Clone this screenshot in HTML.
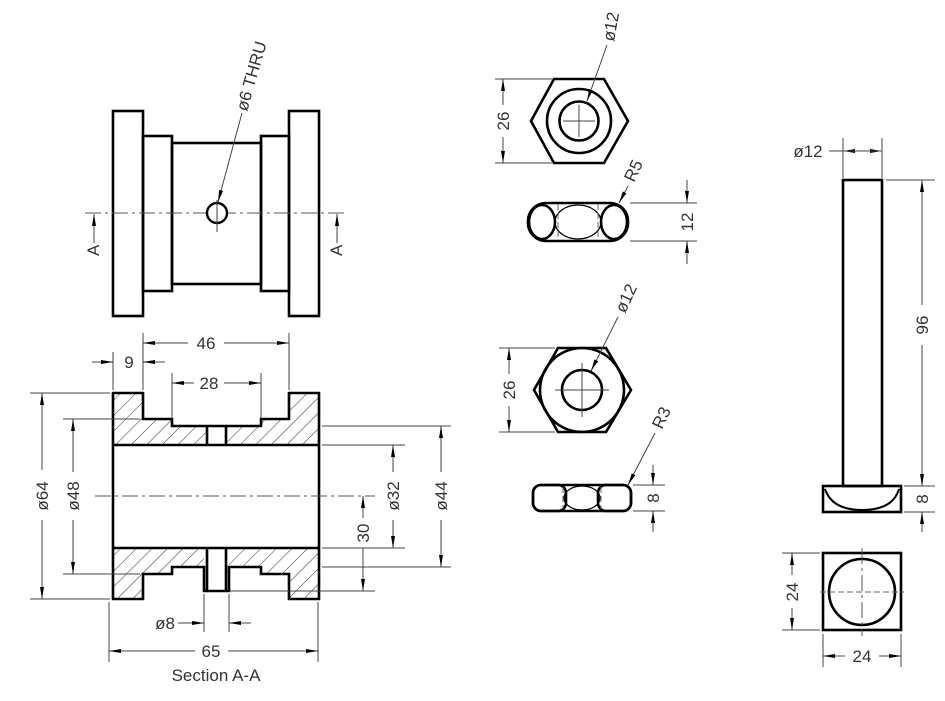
<!DOCTYPE html>
<html><head><meta charset="utf-8"><style>
html,body{margin:0;padding:0;background:#fff;}
svg{display:block;}
text{font-family:"Liberation Sans","DejaVu Sans",sans-serif;fill:#333;font-size:17px;}
.k{stroke:#000;stroke-width:2.6;fill:none;stroke-linejoin:miter;}
.t{stroke:#444;stroke-width:1;fill:none;}
.c{stroke:#555;stroke-width:1;fill:none;stroke-dasharray:16 4 3 4;}
.h{stroke:#666;stroke-width:1;fill:none;stroke-dasharray:6 3;}
</style></head><body>
<svg width="945" height="701" viewBox="0 0 945 701" xmlns="http://www.w3.org/2000/svg">
<defs>
<marker id="a" viewBox="0 0 12 4" refX="12" refY="2" markerWidth="12" markerHeight="4" markerUnits="userSpaceOnUse" orient="auto-start-reverse"><path d="M0,0 L12,2 L0,4 z" fill="#000"/></marker>
<pattern id="hp" patternUnits="userSpaceOnUse" width="11" height="11" patternTransform="rotate(45)"><line x1="0" y1="0" x2="0" y2="11" stroke="#333" stroke-width="1"/></pattern>
</defs>

<!-- ===== Top view ===== -->
<rect class="k" x="113" y="111" width="30" height="205"/>
<rect class="k" x="143" y="136" width="29" height="155"/>
<rect class="k" x="172" y="143" width="89" height="141"/>
<rect class="k" x="261" y="136" width="28" height="155"/>
<rect class="k" x="289" y="111" width="30" height="205"/>
<line class="c" x1="85" y1="213" x2="348" y2="213"/>
<circle cx="217" cy="213" r="10" fill="#fff" stroke="#000" stroke-width="2.4"/>
<line class="t" x1="217" y1="200" x2="217" y2="232"/>
<line class="t" x1="242" y1="113" x2="218" y2="202" marker-end="url(#a)"/>
<text transform="translate(247,112) rotate(-74)">ø6  THRU</text>
<line class="t" x1="94" y1="243" x2="94" y2="214" marker-end="url(#a)" stroke="#000" stroke-width="1.5"/>
<text transform="translate(99,256) rotate(-90)" font-size="14">A</text>
<line class="t" x1="337" y1="243" x2="337" y2="214" marker-end="url(#a)" stroke="#000" stroke-width="1.5"/>
<text transform="translate(342,256) rotate(-90)" font-size="14">A</text>

<!-- ===== Section A-A ===== -->
<path d="M113,393 L143,393 L143,419 L172,419 L172,426 L207,426 L207,445 L113,445 Z" fill="url(#hp)"/>
<path d="M227,426 L261,426 L261,419 L289,419 L289,393 L319,393 L319,445 L227,445 Z" fill="url(#hp)"/>
<path d="M113,548 L204,548 L204,567 L172,567 L172,574 L143,574 L143,599 L113,599 Z" fill="url(#hp)"/>
<path d="M229,548 L319,548 L319,599 L289,599 L289,574 L261,574 L261,567 L229,567 Z" fill="url(#hp)"/>
<path class="k" d="M113,393 L143,393 L143,419 L172,419 L172,426 L261,426 L261,419 L289,419 L289,393 L319,393 L319,599 L289,599 L289,574 L261,574 L261,567 L229,567 L229,591 L204,591 L204,567 L172,567 L172,574 L143,574 L143,599 L113,599 Z"/>
<line class="k" x1="113" y1="445" x2="319" y2="445"/>
<line class="k" x1="113" y1="548" x2="319" y2="548"/>
<line class="k" x1="207" y1="426" x2="207" y2="445"/>
<line class="k" x1="226" y1="426" x2="226" y2="445"/>
<line class="k" x1="207" y1="548" x2="207" y2="591"/>
<line class="k" x1="226" y1="548" x2="226" y2="591"/>
<line class="c" x1="95" y1="496" x2="375" y2="496"/>

<!-- dims -->
<line class="t" x1="143" y1="333" x2="143" y2="390"/>
<line class="t" x1="289" y1="333" x2="289" y2="390"/>
<line class="t" x1="143" y1="343" x2="188" y2="343" marker-start="url(#a)"/>
<line class="t" x1="224" y1="343" x2="289" y2="343" marker-end="url(#a)"/>
<text x="206" y="349" text-anchor="middle">46</text>

<line class="t" x1="113" y1="352" x2="113" y2="390"/>
<line class="t" x1="92" y1="362" x2="113" y2="362" marker-end="url(#a)"/>
<line class="t" x1="165" y1="362" x2="143" y2="362" marker-end="url(#a)"/>
<text x="129" y="368" text-anchor="middle">9</text>

<line class="t" x1="172" y1="373" x2="172" y2="419"/>
<line class="t" x1="261" y1="373" x2="261" y2="419"/>
<line class="t" x1="172" y1="383" x2="194" y2="383" marker-start="url(#a)"/>
<line class="t" x1="224" y1="383" x2="261" y2="383" marker-end="url(#a)"/>
<text x="209" y="389" text-anchor="middle">28</text>

<line class="t" x1="30" y1="393" x2="110" y2="393"/>
<line class="t" x1="30" y1="599" x2="110" y2="599"/>
<line class="t" x1="42" y1="393" x2="42" y2="470" marker-start="url(#a)"/>
<line class="t" x1="42" y1="520" x2="42" y2="599" marker-end="url(#a)"/>
<text transform="translate(48,496) rotate(-90)" text-anchor="middle">ø64</text>

<line class="t" x1="63" y1="419" x2="140" y2="419"/>
<line class="t" x1="63" y1="574" x2="140" y2="574"/>
<line class="t" x1="73" y1="419" x2="73" y2="472" marker-start="url(#a)"/>
<line class="t" x1="73" y1="520" x2="73" y2="574" marker-end="url(#a)"/>
<text transform="translate(79,496) rotate(-90)" text-anchor="middle">ø48</text>

<line class="t" x1="322" y1="445" x2="405" y2="445"/>
<line class="t" x1="322" y1="548" x2="405" y2="548"/>
<line class="t" x1="393" y1="445" x2="393" y2="472" marker-start="url(#a)"/>
<line class="t" x1="393" y1="520" x2="393" y2="548" marker-end="url(#a)"/>
<text transform="translate(399,496) rotate(-90)" text-anchor="middle">ø32</text>

<line class="t" x1="322" y1="426" x2="451" y2="426"/>
<line class="t" x1="322" y1="567" x2="451" y2="567"/>
<line class="t" x1="441" y1="426" x2="441" y2="472" marker-start="url(#a)"/>
<line class="t" x1="441" y1="520" x2="441" y2="567" marker-end="url(#a)"/>
<text transform="translate(447,496) rotate(-90)" text-anchor="middle">ø44</text>

<line class="t" x1="229" y1="591" x2="375" y2="591"/>
<line class="t" x1="363" y1="496" x2="363" y2="518" marker-start="url(#a)"/>
<line class="t" x1="363" y1="548" x2="363" y2="591" marker-end="url(#a)"/>
<text transform="translate(369,533) rotate(-90)" text-anchor="middle">30</text>

<line class="t" x1="204" y1="594" x2="204" y2="632"/>
<line class="t" x1="229" y1="594" x2="229" y2="632"/>
<line class="t" x1="178" y1="623" x2="204" y2="623" marker-end="url(#a)"/>
<line class="t" x1="251" y1="623" x2="229" y2="623" marker-end="url(#a)"/>
<text x="165" y="629" text-anchor="middle">ø8</text>

<line class="t" x1="109" y1="602" x2="109" y2="662"/>
<line class="t" x1="318" y1="602" x2="318" y2="662"/>
<line class="t" x1="109" y1="651" x2="195" y2="651" marker-start="url(#a)"/>
<line class="t" x1="228" y1="651" x2="318" y2="651" marker-end="url(#a)"/>
<text x="211" y="657" text-anchor="middle">65</text>
<text x="216" y="681" text-anchor="middle" font-size="13">Section A-A</text>

<!-- ===== Hex nut 1 ===== -->
<polygon class="k" points="554,79 604,79 628,121 604,163 554,163 531,121"/>
<circle class="k" cx="579" cy="121" r="32" stroke-width="2"/>
<circle class="k" cx="579" cy="121" r="19.5"/>
<line class="t" x1="563" y1="121" x2="595" y2="121"/>
<line class="t" x1="579" y1="105" x2="579" y2="137"/>
<line class="t" x1="495" y1="79" x2="552" y2="79"/>
<line class="t" x1="495" y1="163" x2="552" y2="163"/>
<line class="t" x1="503" y1="79" x2="503" y2="105" marker-start="url(#a)"/>
<line class="t" x1="503" y1="137" x2="503" y2="163" marker-end="url(#a)"/>
<text transform="translate(509,121) rotate(-90)" text-anchor="middle">26</text>
<line class="t" x1="607" y1="45" x2="587" y2="101" marker-end="url(#a)"/>
<text transform="translate(614,42) rotate(-80)">ø12</text>

<!-- nut side 1 -->
<rect class="k" x="528" y="203" width="100" height="38" rx="18"/>
<ellipse class="k" cx="542" cy="222" rx="13" ry="17" stroke-width="2"/>
<ellipse class="k" cx="614" cy="222" rx="13" ry="17" stroke-width="2"/>
<ellipse cx="578" cy="222" rx="23" ry="17" fill="none" stroke="#000" stroke-width="1.2"/>
<line class="h" x1="558" y1="204" x2="558" y2="240"/>
<line class="h" x1="598" y1="204" x2="598" y2="240"/>
<line class="t" x1="630" y1="203" x2="697" y2="203"/>
<line class="t" x1="630" y1="241" x2="697" y2="241"/>
<line class="t" x1="687" y1="180" x2="687" y2="203" marker-end="url(#a)"/>
<line class="t" x1="687" y1="264" x2="687" y2="241" marker-end="url(#a)"/>
<text transform="translate(693,222) rotate(-90)" text-anchor="middle">12</text>
<line class="t" x1="628" y1="186" x2="619" y2="203" marker-end="url(#a)"/>
<text transform="translate(634,183) rotate(-65)">R5</text>

<!-- ===== Hex nut 2 ===== -->
<polygon class="k" points="558,348 606,348 631,390 606,432 558,432 534,390"/>
<circle class="k" cx="582" cy="390" r="42" stroke-width="2"/>
<circle class="k" cx="582" cy="390" r="20"/>
<line class="t" x1="555" y1="390" x2="609" y2="390"/>
<line class="t" x1="582" y1="363" x2="582" y2="417"/>
<line class="t" x1="499" y1="348" x2="555" y2="348"/>
<line class="t" x1="499" y1="432" x2="555" y2="432"/>
<line class="t" x1="509" y1="348" x2="509" y2="374" marker-start="url(#a)"/>
<line class="t" x1="509" y1="406" x2="509" y2="432" marker-end="url(#a)"/>
<text transform="translate(515,390) rotate(-90)" text-anchor="middle">26</text>
<line class="t" x1="618" y1="317" x2="591" y2="371" marker-end="url(#a)"/>
<text transform="translate(625,314) rotate(-65)">ø12</text>

<!-- nut side 2 -->
<rect class="k" x="533" y="485" width="98" height="26" rx="8"/>
<rect class="k" x="533" y="485" width="33" height="26" rx="8" stroke-width="2"/>
<rect class="k" x="598" y="485" width="33" height="26" rx="8" stroke-width="2"/>
<ellipse cx="582" cy="498" rx="18" ry="12" fill="none" stroke="#000" stroke-width="1.2"/>
<line class="h" x1="563" y1="487" x2="563" y2="509"/>
<line class="h" x1="601" y1="487" x2="601" y2="509"/>
<line class="t" x1="633" y1="485" x2="665" y2="485"/>
<line class="t" x1="633" y1="511" x2="665" y2="511"/>
<line class="t" x1="653" y1="465" x2="653" y2="485" marker-end="url(#a)"/>
<line class="t" x1="653" y1="532" x2="653" y2="511" marker-end="url(#a)"/>
<text transform="translate(659,498) rotate(-90)" text-anchor="middle">8</text>
<line class="t" x1="655" y1="433" x2="628" y2="485" marker-end="url(#a)"/>
<text transform="translate(662,430) rotate(-65)">R3</text>

<!-- ===== Bolt ===== -->
<rect class="k" x="843" y="180" width="39" height="306"/>
<rect class="k" x="823" y="486" width="78" height="26"/>
<path d="M825,489 Q832,510 862,510 Q893,510 899,489" fill="none" stroke="#000" stroke-width="2"/>
<line class="t" x1="843" y1="138" x2="843" y2="178"/>
<line class="t" x1="882" y1="138" x2="882" y2="178"/>
<line class="t" x1="829" y1="151" x2="843" y2="151"/>
<line class="t" x1="850" y1="151" x2="843" y2="151" marker-end="url(#a)"/>
<line class="t" x1="870" y1="151" x2="882" y2="151" marker-end="url(#a)"/>
<line class="t" x1="843" y1="151" x2="882" y2="151"/>
<text x="808" y="157" text-anchor="middle">ø12</text>

<line class="t" x1="886" y1="180" x2="935" y2="180"/>
<line class="t" x1="904" y1="486" x2="935" y2="486"/>
<line class="t" x1="904" y1="512" x2="935" y2="512"/>
<line class="t" x1="922" y1="180" x2="922" y2="305" marker-start="url(#a)"/>
<line class="t" x1="922" y1="345" x2="922" y2="486" marker-end="url(#a)"/>
<text transform="translate(928,325) rotate(-90)" text-anchor="middle">96</text>
<line class="t" x1="922" y1="532" x2="922" y2="512" marker-end="url(#a)"/>
<text transform="translate(928,499) rotate(-90)" text-anchor="middle">8</text>

<rect class="k" x="823" y="553" width="78" height="77"/>
<circle class="k" cx="862" cy="592" r="33" stroke-width="2.2"/>
<line class="h" x1="820" y1="592" x2="904" y2="592"/>
<line class="c" x1="862" y1="548" x2="862" y2="636"/>
<line class="t" x1="782" y1="553" x2="820" y2="553"/>
<line class="t" x1="782" y1="630" x2="820" y2="630"/>
<line class="t" x1="792" y1="553" x2="792" y2="575" marker-start="url(#a)"/>
<line class="t" x1="792" y1="608" x2="792" y2="630" marker-end="url(#a)"/>
<text transform="translate(798,592) rotate(-90)" text-anchor="middle">24</text>
<line class="t" x1="823" y1="634" x2="823" y2="667"/>
<line class="t" x1="901" y1="634" x2="901" y2="667"/>
<line class="t" x1="823" y1="656" x2="845" y2="656" marker-start="url(#a)"/>
<line class="t" x1="879" y1="656" x2="901" y2="656" marker-end="url(#a)"/>
<text x="862" y="662" text-anchor="middle">24</text>
</svg>
</body></html>
